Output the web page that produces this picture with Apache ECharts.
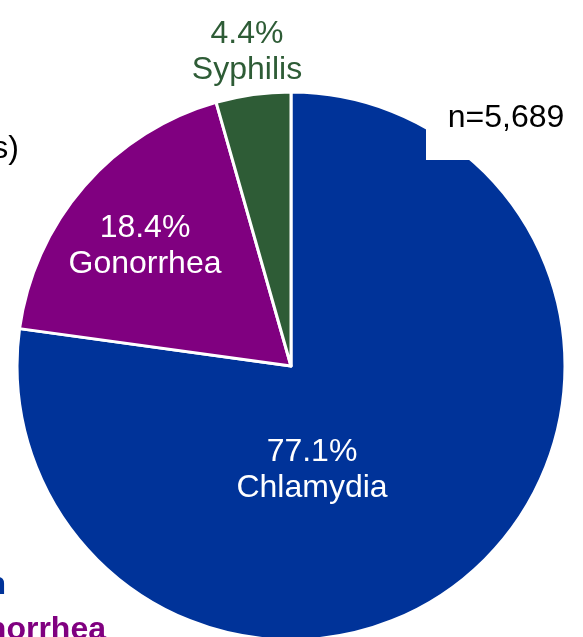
<!DOCTYPE html>
<html>
<head>
<meta charset="utf-8">
<script src="https://cdn.jsdelivr.net/npm/echarts@6/dist/echarts.min.js"></script>
<style>
    html, body { margin: 0; padding: 0; background: #fff; }
    #chart { width: 583px; height: 637px; }
</style>
</head>
<body>
<div id="chart"></div>
<script>
    // STD share of cases
    var categories = ['Chlamydia', 'Gonorrhea', 'Syphilis'];
    var percents = [77.1, 18.4, 4.4];
    var colors = ['#003399', '#800080', '#2e5c36'];
    var totalText = 'n=5,689';

    var FONT = '"Liberation Sans", Arial, sans-serif';
    // where each label sits
    var labelSpots = [[312, 470], [145, 246], [247, 52]];
    var labelColors = ['#fff', '#fff', '#2e5c36'];

    var pieData = [];
    for (var i = 0; i < categories.length; i++) {
        pieData.push({
            name: categories[i],
            value: percents[i],
            itemStyle: { color: colors[i] },
            label: { color: labelColors[i] }
        });
    }

    function txt(x, y, s, font, fill, align) {
        return {
            type: 'text',
            z: 101,
            x: x,
            y: y,
            style: {
                text: s,
                font: font,
                fill: fill,
                align: align,
                verticalAlign: 'middle'
            }
        };
    }

    var chart = echarts.init(document.getElementById('chart'));
    var option = {
        animation: false,
        backgroundColor: '#fff',
        series: [{
            type: 'pie',
            center: [291, 366],
            radius: 274,
            startAngle: 90,
            clockwise: true,
            silent: true,
            itemStyle: {
                borderColor: '#fff',
                borderWidth: 3
            },
            label: {
                show: true,
                position: 'inside',
                formatter: function (p) {
                    return p.value.toFixed(1) + '%\n' + p.name;
                },
                fontFamily: FONT,
                fontSize: 32,
                lineHeight: 36,
                align: 'center'
            },
            labelLine: { show: false },
            labelLayout: function (params) {
                var s = labelSpots[params.dataIndex];
                return { x: s[0], y: s[1], align: 'center', verticalAlign: 'middle' };
            },
            data: pieData
        }],
        graphic: [
            {
                type: 'rect',
                z: 100,
                shape: { x: 426, y: 0, width: 160, height: 160 },
                style: { fill: '#fff' }
            },
            txt(506, 118, totalText, '32px ' + FONT, '#000', 'center'),
            txt(19, 149, 's)', '32px ' + FONT, '#000', 'right'),
            txt(6, 585, 'n', 'bold 32px ' + FONT, '#003399', 'right'),
            txt(106, 630, 'Gonorrhea', 'bold 32px ' + FONT, '#800080', 'right')
        ]
    };
    chart.setOption(option);
</script>
</body>
</html>
